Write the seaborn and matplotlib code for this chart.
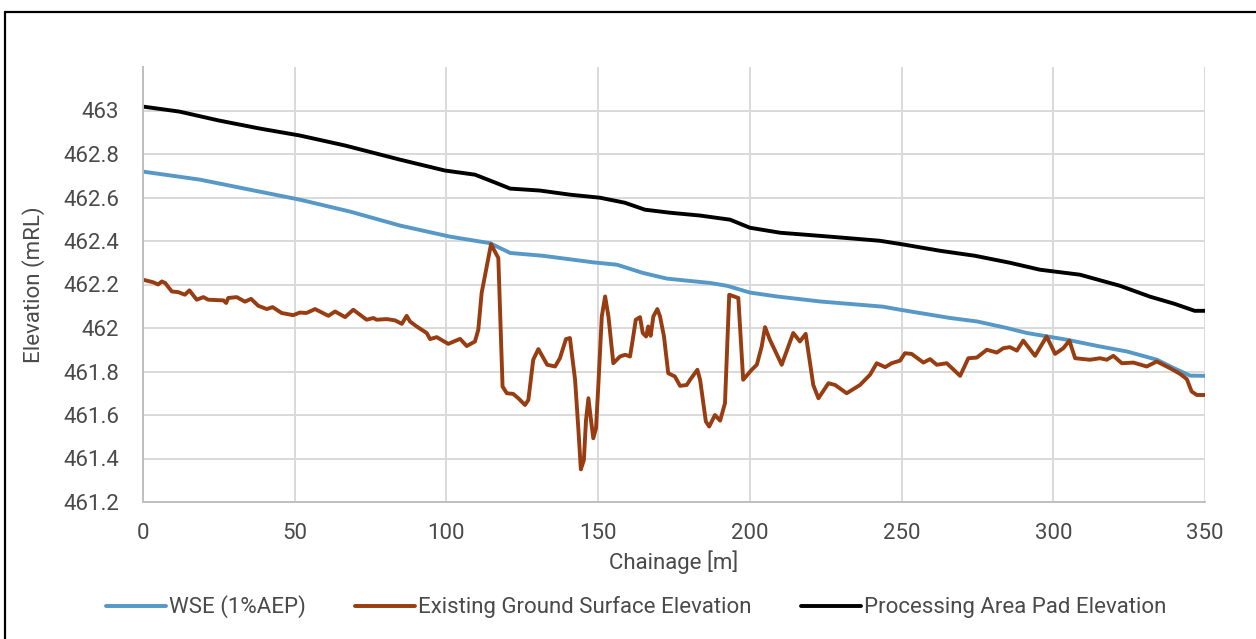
import numpy as np
import pandas as pd
import matplotlib
matplotlib.use("Agg")
import matplotlib.pyplot as plt
from matplotlib.lines import Line2D
import seaborn as sns

# ---------------- data ----------------
wse_chainage = [0, 18.8, 35.2, 51.7, 68.3, 84.7, 101.2, 114.4, 121, 131.8, 148.3, 156.2,
                164.8, 172.7, 186.9, 192.5, 200, 208.9, 223.1, 243.9, 249.5, 266, 274.9,
                284.7, 291.3, 304.5, 315.4, 324.3, 334.2, 339.5, 345.1, 350]
wse_elev = [462.719, 462.682, 462.636, 462.590, 462.535, 462.471, 462.420, 462.390,
            462.345, 462.332, 462.302, 462.291, 462.253, 462.227, 462.207, 462.194,
            462.163, 462.145, 462.122, 462.098, 462.084, 462.046, 462.030, 462.000,
            461.977, 461.946, 461.915, 461.892, 461.854, 461.817, 461.781, 461.780]

pad_chainage = [0, 12, 25, 38.5, 51.7, 66.6, 84.7, 99.5, 109.4, 116, 121, 130.8, 140.7,
                150.6, 158.8, 165.4, 173.7, 183.6, 193.5, 200, 210, 226.4, 242.9, 251,
                262.7, 274.2, 285.7, 295.6, 308.8, 322, 331.9, 340, 346.6, 350]
pad_elev = [463.018, 462.995, 462.954, 462.917, 462.885, 462.839, 462.774, 462.724,
            462.705, 462.669, 462.641, 462.632, 462.613, 462.599, 462.576, 462.544,
            462.530, 462.517, 462.498, 462.461, 462.438, 462.420, 462.401, 462.383,
            462.355, 462.332, 462.300, 462.268, 462.245, 462.194, 462.144, 462.111,
            462.079, 462.079]

ground_chainage = [0, 3.4, 5.0, 6.2, 7.3, 9.5, 11.6, 13.8, 15.3, 17.7, 19.9, 21.5, 26.5,
                   27.4, 28.1, 30.9, 33.6, 35.6, 38.0, 40.8, 42.7, 45.7, 49.5, 51.7, 53.9,
                   56.7, 61.1, 63.3, 66.6, 69.3, 73.7, 75.9, 77.0, 80.3, 83.1, 85.3, 86.9,
                   88.0, 90.2, 93.5, 94.6, 96.8, 100.6, 104.5, 106.7, 109.4, 110.5, 111.6,
                   113.3, 114.7, 117.1, 118.5, 119.9, 122.0, 123.7, 125.9, 127.0, 128.6,
                   130.3, 133.2, 135.8, 137.4, 139.4, 140.7, 142.4, 143.5, 144.3, 145.3,
                   146.0, 146.8, 147.5, 148.4, 149.3, 150.1, 151.2, 152.3, 153.4, 155.0,
                   157.2, 158.9, 160.5, 161.4, 162.4, 163.8, 164.7, 165.8, 166.5, 167.3,
                   168.2, 169.5, 170.4, 171.7, 173.1, 175.3, 177.0, 179.2, 180.3, 182.7,
                   183.6, 185.5, 186.6, 188.5, 190.2, 191.8, 193.2, 196.2, 197.8, 200.6,
                   202.3, 203.9, 205.0, 206.6, 210.5, 214.3, 216.5, 218.4, 220.9, 222.6,
                   225.9, 228.1, 231.9, 236.3, 239.6, 241.8, 244.6, 246.7, 249.5, 251.1,
                   253.3, 257.2, 259.4, 261.6, 264.9, 269.3, 272.0, 274.8, 278.1, 281.4,
                   283.5, 285.7, 288.0, 290.1, 294.0, 297.8, 300.6, 303.3, 305.3, 307.2,
                   312.1, 315.4, 317.6, 319.8, 322.6, 326.4, 330.8, 334.1, 338.5, 341.8,
                   344.0, 345.6, 347.3, 350]
ground_elev = [462.222, 462.210, 462.200, 462.214, 462.207, 462.168, 462.165, 462.153,
               462.173, 462.130, 462.142, 462.130, 462.127, 462.115, 462.138, 462.142,
               462.121, 462.134, 462.102, 462.087, 462.096, 462.069, 462.059, 462.071,
               462.069, 462.087, 462.056, 462.076, 462.050, 462.084, 462.038, 462.046,
               462.038, 462.041, 462.035, 462.019, 462.056, 462.030, 462.007, 461.977,
               461.949, 461.958, 461.927, 461.950, 461.917, 461.938, 461.992, 462.161,
               462.283, 462.385, 462.322, 461.731, 461.700, 461.697, 461.677, 461.646,
               461.669, 461.854, 461.903, 461.831, 461.823, 461.861, 461.949, 461.954,
               461.762, 461.531, 461.350, 461.393, 461.577, 461.677, 461.593, 461.493,
               461.539, 461.746, 462.053, 462.145, 462.053, 461.838, 461.869, 461.877,
               461.869, 461.946, 462.038, 462.050, 461.977, 461.961, 462.007, 461.964,
               462.053, 462.087, 462.053, 461.961, 461.792, 461.777, 461.734, 461.738,
               461.762, 461.808, 461.762, 461.570, 461.547, 461.600, 461.574, 461.654,
               462.153, 462.138, 461.762, 461.808, 461.831, 461.915, 462.004, 461.946,
               461.831, 461.977, 461.938, 461.973, 461.738, 461.677, 461.746, 461.738,
               461.700, 461.738, 461.785, 461.838, 461.820, 461.838, 461.850, 461.884,
               461.881, 461.841, 461.857, 461.831, 461.838, 461.780, 461.861, 461.864,
               461.900, 461.887, 461.907, 461.912, 461.896, 461.942, 461.872, 461.961,
               461.881, 461.907, 461.942, 461.861, 461.854, 461.861, 461.854, 461.872,
               461.838, 461.841, 461.823, 461.846, 461.815, 461.789, 461.765, 461.708,
               461.692, 461.692]

series_names = ["WSE (1%AEP)", "Existing Ground Surface Elevation",
                "Processing Area Pad Elevation"]
series_colors = ["#5698C6", "#983C12", "#000000"]

y_ticks = [461.2, 461.4, 461.6, 461.8, 462.0, 462.2, 462.4, 462.6, 462.8, 463.0]
y_tick_labels = ["461.2", "461.4", "461.6", "461.8", "462", "462.2", "462.4",
                 "462.6", "462.8", "463"]
x_ticks = [0, 50, 100, 150, 200, 250, 300, 350]

# ---------------- frame ----------------
df = pd.concat([
    pd.DataFrame({"Chainage": wse_chainage, "Elevation": wse_elev, "Series": series_names[0]}),
    pd.DataFrame({"Chainage": ground_chainage, "Elevation": ground_elev, "Series": series_names[1]}),
    pd.DataFrame({"Chainage": pad_chainage, "Elevation": pad_elev, "Series": series_names[2]}),
], ignore_index=True)

sns.set_style("white")
plt.rcParams["font.family"] = ["Roboto", "DejaVu Sans"]
text_color = "#4a4a4a"
fs = 16

fig = plt.figure(figsize=(12.56, 6.39), dpi=100)
ax = fig.add_axes([143 / 1256, 1 - 502 / 639, (1205 - 143) / 1256, (502 - 67) / 639])

sns.lineplot(data=df, x="Chainage", y="Elevation", hue="Series",
             hue_order=series_names, palette=dict(zip(series_names, series_colors)),
             estimator=None, sort=False, linewidth=2.8, ax=ax, legend=False)

ax.set_xlim(0, 350)
ax.set_ylim(461.2, 463.2)
ax.set_xticks(x_ticks)
ax.set_yticks(y_ticks)
ax.set_yticklabels(y_tick_labels)
ax.grid(True, color="#d9d9d9", linewidth=1.4)
ax.set_axisbelow(True)
for s in ["top", "right"]:
    ax.spines[s].set_visible(False)
for s in ["left", "bottom"]:
    ax.spines[s].set_color("#bfbfbf")
    ax.spines[s].set_linewidth(1.4)
ax.tick_params(axis="both", length=0, labelsize=fs, colors=text_color)
ax.tick_params(axis="y", pad=17)
ax.tick_params(axis="x", pad=15)
ax.set_xlabel("Chainage [m]", fontsize=fs, color=text_color, labelpad=5)
ax.set_ylabel("Elevation (mRL)", fontsize=fs, color=text_color, labelpad=13)

handles = [Line2D([0], [0], color=c, linewidth=2.8) for c in series_colors]
fig.legend(handles, series_names, loc="center", bbox_to_anchor=(636 / 1256, 1 - 607 / 639),
           ncol=3, frameon=False, fontsize=fs, labelcolor=text_color,
           handlelength=2.7, handletextpad=0.15, columnspacing=2.2)

# outer chart border (top and left visible)
fig.add_artist(Line2D([5 / 1256, 1.0], [1 - 12 / 639, 1 - 12 / 639], color="black",
                      linewidth=1.6, transform=fig.transFigure))
fig.add_artist(Line2D([5 / 1256, 5 / 1256], [0, 1 - 12 / 639], color="black",
                      linewidth=1.6, transform=fig.transFigure))

fig.savefig("out.png", dpi=100, facecolor="white")
